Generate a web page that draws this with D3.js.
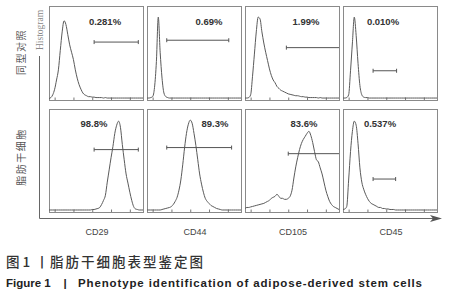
<!DOCTYPE html>
<html>
<head>
<meta charset="utf-8">
<script src="https://cdn.jsdelivr.net/npm/d3@7"></script>
<style>
	body { margin: 0; background: #fff; }
	svg { display: block; }
	.frame { fill: none; stroke: #8a8a8a; stroke-width: 1; shape-rendering: crispEdges; }
	.hist { fill: none; stroke: #5a5a5a; stroke-width: 1; }
	.gate { stroke: #555; stroke-width: 1; }
	.pct { font-family: "Liberation Sans", Arial, sans-serif; font-size: 9.5px; font-weight: bold; fill: #333; }
	.marker { font-family: "Liberation Sans", Arial, sans-serif; font-size: 9px; fill: #444; }
	.rowlab { font-family: "Noto Sans CJK SC", sans-serif; font-size: 10px; fill: #555; letter-spacing: 1.5px; }
	.histlab { font-family: "Liberation Serif", serif; font-size: 9.5px; fill: #888; }
	.axis-line { stroke: #666; stroke-width: 1; fill: none; }
	.tick line { stroke: #777; }
	.cap-cn { font-family: "Noto Sans CJK SC", sans-serif; font-size: 13.5px; font-weight: 500; fill: #333; }
	.cap-en { font-family: "Liberation Sans", Arial, sans-serif; font-size: 11.5px; font-weight: bold; fill: #222; }
</style>
</head>
<body>
<div id="chart"></div>
<script>

// ---- data ----
var markers = ["CD29", "CD44", "CD105", "CD45"];
var rowLabels = ["同型对照", "脂肪干细胞"];

// relative fluorescence channel (display units) shared by every histogram
var channels = [0, 2, 4, 6, 8, 10, 12, 14, 16, 18, 20, 22, 24, 26, 28, 30, 32, 34, 36, 38,
	40, 42, 44, 46, 48, 50, 52, 54, 56, 58, 60, 62, 64, 66, 68, 70, 72, 74, 76, 78,
	80, 82, 84, 86, 88, 90, 92, 94, 96, 98, 100];

// isotype control (% of modal)
var isoCD29 = [0, 1, 4, 10, 20, 31, 52, 72, 84, 80, 69, 58, 50, 42, 31, 22, 15, 10, 6, 4,
	3, 2, 2, 1.5, 1.5, 1, 1, 1, 1, 0.5, 1, 0.5, 0.5, 0.5, 0.5, 0.5, 0.5, 0.5, 0.5, 0.5,
	0.5, 0.5, 0.5, 0.5, 0.5, 0.5, 0.5, 0.5, 0.5, 0.5, 0.5];
var isoCD44 = [0.5, 0.5, 1, 2, 12, 40, 88, 50, 22, 6, 2, 1, 0.5, 0.5, 0.5, 0.5, 0.5, 0.5, 0.5, 0.5,
	0.5, 0.5, 0.5, 0.5, 0.5, 0.5, 0.5, 0.5, 0.5, 0.5, 0.5, 0.5, 0.5, 0.5, 0.5, 0.5, 0.5, 0.5, 0.5, 0.5,
	0.5, 0.5, 0.5, 0.5, 0.5, 0.5, 0.5, 0.5, 0.5, 0.5, 0.5];
var isoCD105 = [0.5, 0.5, 1, 4, 24, 48, 72, 88, 86, 72, 60, 50, 41, 32, 25, 20, 17, 13, 11, 9,
	8, 7, 6, 5, 4.5, 4, 3.5, 3, 3, 2.5, 2, 2, 1.5, 1.5, 1, 1, 1, 1, 1, 0.5,
	1, 0.5, 0.5, 0.5, 0.5, 0.5, 0.5, 0.5, 0.5, 0.5, 0.5];
var isoCD45 = [0.5, 0.5, 1, 4, 30, 60, 88, 68, 38, 14, 4, 1.5, 1, 1, 0.5, 0.5, 0.5, 0.5, 0.5, 0.5,
	0.5, 0.5, 0.5, 0.5, 0.5, 0.5, 0.5, 0.5, 0.5, 0.5, 0.5, 0.5, 0.5, 0.5, 0.5, 0.5, 0.5, 0.5, 0.5, 0.5,
	0.5, 0.5, 0.5, 0.5, 0.5, 0.5, 0.5, 0.5, 0.5, 0.5, 0.5];

// adipose-derived stem cells (% of modal)
var adscCD29 = [0.5, 0.5, 0.5, 0.5, 0.5, 0.5, 0.5, 0.5, 0.5, 0.5, 0.5, 0.5, 0.5, 0.5, 0.5, 0.5, 0.5, 0.5, 0.5, 0.5,
	0.5, 0.5, 0.5, 1, 1, 1.5, 2, 3, 6, 10, 15, 28, 40, 52, 63, 76, 84, 88, 82, 65,
	50, 36, 27, 18, 10, 4, 1.5, 1, 0.5, 0.5, 0.5];
var adscCD44 = [0.5, 0.5, 0.5, 0.5, 0.5, 0.5, 0.5, 0.5, 1, 1.5, 2, 2.5, 3, 4, 6, 9, 13, 20, 30, 45,
	62, 76, 85, 89, 86, 76, 64, 50, 36, 26, 18, 12, 9, 7, 5, 4, 3, 2, 1.5, 1,
	0.5, 0.5, 0.5, 0.5, 0.5, 0.5, 0.5, 0.5, 0.5, 0.5, 0.5];
var adscCD105 = [2, 3, 3, 3.5, 4, 4.5, 5, 5.5, 6, 6.5, 7, 8, 9, 10, 12, 13, 14, 16, 14, 12,
	12, 11, 11, 12, 14, 20, 32, 43, 52, 60, 66, 70, 73, 76, 78, 74, 67, 58, 50, 48,
	42, 36, 28, 20, 14, 9, 6, 4, 3, 2, 1];
var adscCD45 = [1, 1.5, 4, 30, 58, 78, 88, 84, 66, 42, 28, 21, 16, 12, 9, 7, 6, 5, 4, 3,
	3, 2, 2, 1.5, 1.5, 1, 1, 1, 0.5, 0.5, 0.5, 0.5, 0.5, 0.5, 0.5, 0.5, 0.5, 0.5, 0.5, 0.5,
	0.5, 0.5, 0.5, 0.5, 0.5, 0.5, 0.5, 0.5, 0.5, 0.5, 0.5];

var isoPercent = ["0.281%", "0.69%", "1.99%", "0.010%"];
var adscPercent = ["98.8%", "89.3%", "83.6%", "0.537%"];

// positive gates (channel range)
var isoGateStart = [48, 21, 44, 32];
var isoGateEnd = [95, 87, 100, 57];
var adscGateStart = [48, 21, 46, 32];
var adscGateEnd = [95, 90, 100, 56];


// ---- layout ----
var panelW = 94;
var colLeft = [49, 147, 245, 343];
var rowTop = [6, 109];
var rowH = [94, 103];
var gateLevel = [[61, 63, 55, 30], [60, 62, 56, 31]];
var pctX = [[56, 62, 61, 40], [45, 68, 59, 37]];
var pctY = [13, 12];

var svg = d3.select("#chart").append("svg")
	.attr("width", 456)
	.attr("height", 300);


/*
 * FlowPanel - one flow cytometry histogram with its gate
 */
FlowPanel = function (_svg, _cfg) {
	this.svg = _svg;
	this.cfg = _cfg;
	this.initVis();
}

FlowPanel.prototype.initVis = function () {
	var vis = this, c = vis.cfg;

	vis.g = vis.svg.append("g")
		.attr("transform", "translate(" + c.left + "," + c.top + ")");

	vis.x = d3.scaleLinear().domain([0, 100]).range([0, c.width]);
	vis.y = d3.scaleLinear().domain([0, 100]).range([c.height - 1.5, 0]);

	// decade tick marks along the bottom edge
	vis.xAxis = d3.axisBottom(vis.x)
		.tickValues([6, 26, 46, 66, 86])
		.tickSize(-2.5)
		.tickFormat("");

	vis.g.append("g")
		.attr("transform", "translate(0," + c.height + ")")
		.call(vis.xAxis)
		.call(function (g) { g.select(".domain").remove(); });

	vis.g.append("rect")
		.attr("class", "frame")
		.attr("x", 0.5)
		.attr("y", 0.5)
		.attr("width", c.width)
		.attr("height", c.height);

	vis.line = d3.line()
		.x(function (d) { return vis.x(d[0]); })
		.y(function (d) { return vis.y(d[1]); })
		.curve(d3.curveMonotoneX);

	vis.updateVis();
}

FlowPanel.prototype.updateVis = function () {
	var vis = this, c = vis.cfg;

	var pts = channels.map(function (ch, i) { return [ch, c.counts[i]]; });

	vis.g.append("path")
		.datum(pts)
		.attr("class", "hist")
		.attr("d", vis.line);

	// gate bar with end ticks
	var gy = vis.y(c.gateLevel);
	var gx0 = vis.x(c.gate[0]), gx1 = vis.x(c.gate[1]);
	vis.g.append("line").attr("class", "gate")
		.attr("x1", gx0).attr("x2", gx1).attr("y1", gy).attr("y2", gy);
	[c.gate[0], c.gate[1]].forEach(function (v) {
		if (v >= 100) return;
		vis.g.append("line").attr("class", "gate")
			.attr("x1", vis.x(v)).attr("x2", vis.x(v))
			.attr("y1", gy - 2).attr("y2", gy + 2);
	});

	vis.g.append("text")
		.attr("class", "pct")
		.attr("x", c.labelX)
		.attr("y", c.labelY)
		.attr("text-anchor", "middle")
		.text(c.label);
}

var seriesRows = [
	[isoCD29, isoCD44, isoCD105, isoCD45],
	[adscCD29, adscCD44, adscCD105, adscCD45]
];
var percentRows = [isoPercent, adscPercent];
var gateRows = [
	[isoGateStart, isoGateEnd],
	[adscGateStart, adscGateEnd]
];

seriesRows.forEach(function (row, r) {
	row.forEach(function (counts, m) {
		new FlowPanel(svg, {
			left: colLeft[m],
			top: rowTop[r],
			width: panelW,
			height: rowH[r],
			counts: counts,
			gate: [gateRows[r][0][m], gateRows[r][1][m]],
			gateLevel: gateLevel[r][m],
			label: percentRows[r][m],
			labelX: pctX[r][m],
			labelY: pctY[r] + 6
		});
	});
});

// outer axes with arrow
svg.append("path")
	.attr("class", "axis-line")
	.attr("d", "M39.5,56 V218.5 H440");
svg.append("path")
	.attr("fill", "#555")
	.attr("d", "M430,215 L442,218.5 L430,222 L433,218.5 Z");

svg.append("text")
	.attr("class", "histlab")
	.attr("transform", "translate(43,30) rotate(-90)")
	.attr("text-anchor", "middle")
	.text("Histogram");

// row labels
rowLabels.forEach(function (t, r) {
	svg.append("text")
		.attr("class", "rowlab")
		.attr("transform", "translate(25," + (r === 0 ? 52 : 157) + ") rotate(-90)")
		.attr("text-anchor", "middle")
		.text(t);
});

// marker names
markers.forEach(function (t, m) {
	svg.append("text")
		.attr("class", "marker")
		.attr("x", colLeft[m] + panelW / 2 + 1)
		.attr("y", 235)
		.attr("text-anchor", "middle")
		.text(t);
});

// caption
svg.append("text").attr("class", "cap-cn").attr("x", 6).attr("y", 267).text("图 1");
svg.append("text").attr("class", "cap-cn").attr("x", 42).attr("y", 267)
	.attr("text-anchor", "middle").text("丨");
svg.append("text").attr("class", "cap-cn").attr("x", 50).attr("y", 267)
	.attr("textLength", 153).attr("lengthAdjust", "spacing")
	.text("脂肪干细胞表型鉴定图");

svg.append("text").attr("class", "cap-en").attr("x", 6).attr("y", 287).text("Figure 1");
svg.append("text").attr("class", "cap-en").attr("x", 65).attr("y", 287)
	.attr("text-anchor", "middle").text("|");
svg.append("text").attr("class", "cap-en").attr("x", 78).attr("y", 287)
	.attr("textLength", 344).attr("lengthAdjust", "spacing")
	.text("Phenotype identification of adipose-derived stem cells");

</script>
</body>
</html>
